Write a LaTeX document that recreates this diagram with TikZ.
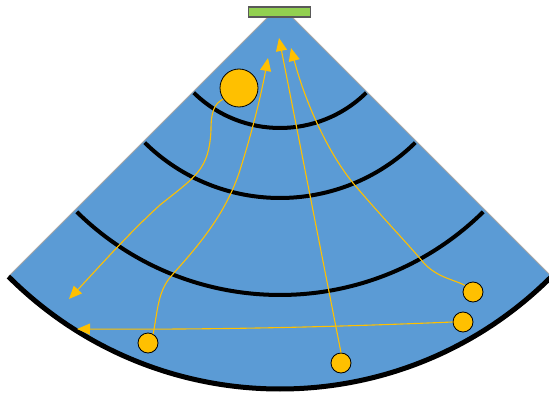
\documentclass[tikz,border=0pt]{standalone}
\usepackage{tikz}
\usepackage{xcolor}
\usetikzlibrary{arrows.meta}
\definecolor{Fan}{HTML}{5B9BD5}
\definecolor{Probe}{HTML}{92D050}
\definecolor{Gold}{HTML}{FFC000}
\definecolor{Edge}{HTML}{A6A6A6}

\begin{document}
\begin{tikzpicture}[x=1pt,y=-1pt,
  ring/.style={line width=4pt,draw=black},
  ball/.style={circle,draw=black,line width=0.8pt,fill=Gold,minimum size=20pt,inner sep=0pt},
  ray/.style={-{Triangle[length=13pt,width=11pt]},line width=1.1pt,draw=Gold},
  probe/.style={draw=black!65,line width=1.2pt,fill=Probe,minimum width=62pt,minimum height=10pt,inner sep=0pt}
]
\useasboundingbox (0,0) rectangle (549,393);
\coordinate (apex) at (280,5);
\path (apex) ++(135:8) coordinate (lt) (apex) ++(45:8) coordinate (rt);
% fan
\fill[Fan] (lt) -- ([shift={(135:384)}]apex) arc[start angle=135,end angle=45,radius=384] -- (rt) -- cycle;
\draw[Edge,line width=1pt] (lt) -- ([shift={(135:384)}]apex) (rt) -- ([shift={(45:384)}]apex);
\draw[line width=5pt] (apex) ++(135:384) arc[start angle=135,end angle=45,radius=384];
\foreach \r in {123,193,290}
  \draw[ring] (apex) ++(134.5:\r) arc[start angle=134.5,end angle=45.5,radius=\r];
\node[probe] (probe) at (279.5,12) {};
% targets
\node[ball,minimum size=38pt] (big) at (239,88) {};
\node[ball] (c1) at (148,343) {};
\node[ball] (c2) at (463,322) {};
\node[ball] (c3) at (341,363) {};
\node[ball] (c4) at (473,292) {};
\coordinate (t1) at (69,299);
\coordinate (t2) at (268,58);
\coordinate (t3) at (77,329);
\coordinate (t4) at (279,38);
\coordinate (t5) at (291,48);
% echoes
\draw[ray] (big.215) .. controls (214,104) and (211,112) .. (211,130)
  .. controls (209,170) and (196,176) .. (160,205)
  .. controls (130,232) and (100,266) .. (t1);
\draw[ray] (c1.60) .. controls (158,308) and (158,290) .. (173,274)
  .. controls (198,246) and (226,214) .. (240,170)
  .. controls (254,126) and (262,90) .. (t2);
\draw[ray] (c2.west) .. controls (380,325) and (250,330) .. (t3);
\draw[ray] (c3.north) -- (t4);
\draw[ray] (c4.140) .. controls (452,279) and (436,277) .. (423,262)
  .. controls (408,244) and (380,215) .. (353,183)
  .. controls (326,150) and (304,98) .. (t5);
\end{tikzpicture}
\end{document}
